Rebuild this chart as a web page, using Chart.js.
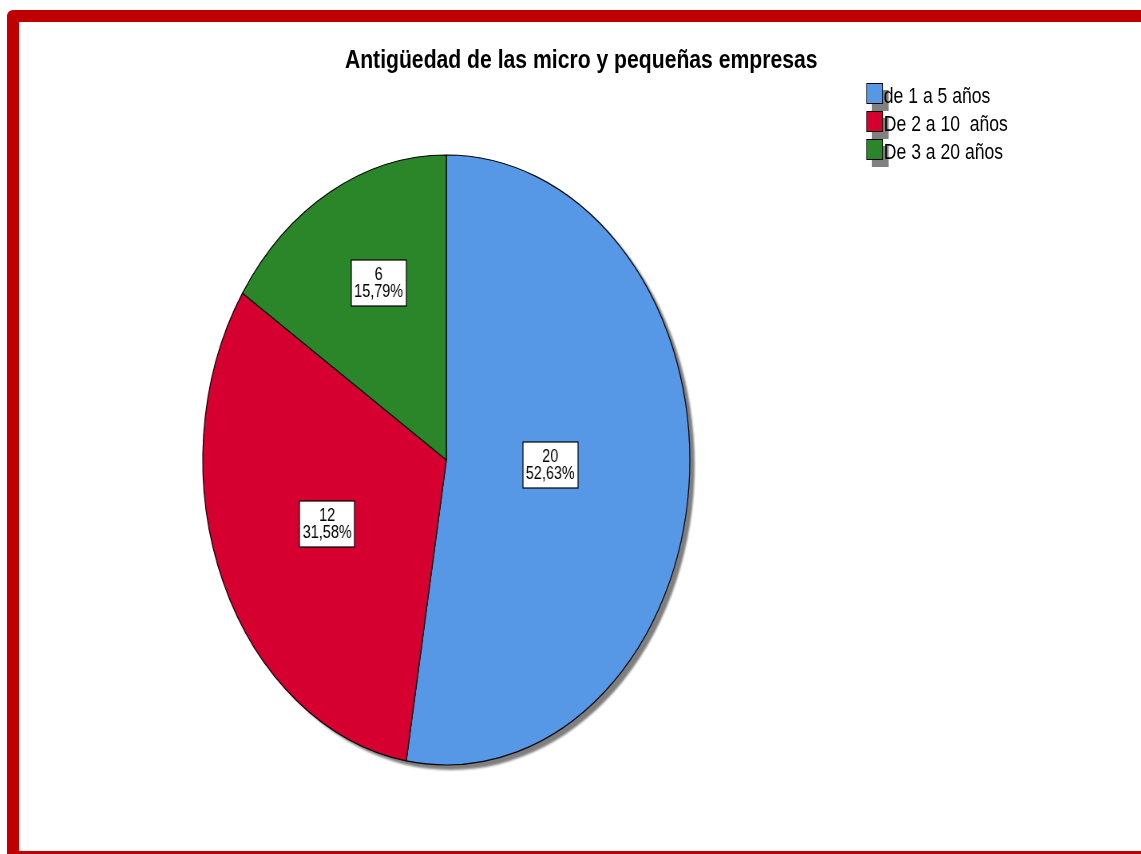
<!DOCTYPE html>
<html>
<head>
<meta charset="utf-8">
<script src="https://cdn.jsdelivr.net/npm/chart.js@4/dist/chart.umd.min.js"></script>
<style>
  html, body { margin: 0; padding: 0; background: #ffffff; width: 1141px; height: 854px; overflow: hidden; }
  #frame { position: absolute; left: 7px; top: 10px; width: 1200px; height: 853px; box-sizing: border-box;
           border: 12px solid #c00000; border-radius: 6px; }
  #wrap { position: absolute; left: 0; top: 0; width: 1429px; height: 854px; transform: scaleX(0.7984); transform-origin: 0 0; }
  #c { position: absolute; left: 0; top: 0; }
  #title { position: absolute; left: 0; width: 1456px; top: 46px; text-align: center; font: bold 26.5px/26px "Liberation Sans", Arial, sans-serif; color: #000; }
  #legend { position: absolute; left: 1085px; top: 83px; font: 22px/22px "Liberation Sans", Arial, sans-serif; color: #000; }
  .item { position: relative; height: 28px; }
  .sh { position: absolute; left: 7px; top: 7px; width: 21px; height: 21px; background: #808080; }
  .sw { position: absolute; left: 0; top: 0; width: 21px; height: 21px; box-sizing: border-box; border: 1px solid #000; }
  .tx { position: absolute; left: 22px; top: 2px; white-space: pre; }
</style>
</head>
<body>
<div id="frame"></div>
<div id="wrap">
  <canvas id="c" width="1429" height="854"></canvas>
  <div id="title"></div>
  <div id="legend"></div>
</div>
<script>
const chartTitle = "Antigüedad de las micro y pequeñas empresas";
const categories = ["de 1 a 5 años", "De 2 a 10  años", "De 3 a 20 años"];
const counts = [20, 12, 6];
const percentLabels = ["52,63%", "31,58%", "15,79%"];
const sliceColors = ["#5697e6", "#d5002f", "#2a8629"];

document.getElementById('title').textContent = chartTitle;
const legendEl = document.getElementById('legend');
categories.forEach((c, i) => {
  const it = document.createElement('div'); it.className = 'item';
  const sh = document.createElement('div'); sh.className = 'sh';
  const sw = document.createElement('div'); sw.className = 'sw'; sw.style.background = sliceColors[i];
  const tx = document.createElement('div'); tx.className = 'tx'; tx.textContent = c;
  it.appendChild(sh); it.appendChild(sw); it.appendChild(tx);
  legendEl.appendChild(it);
});

const SHADOW_DX = 6, SHADOW_DY = 5;
const pieDecor = {
  id: 'pieDecor',
  beforeDatasetsDraw(chart) {
    const ctx = chart.ctx;
    const a = chart.getDatasetMeta(0).data[0];
    ctx.save();
    ctx.fillStyle = '#7f7f7f';
    ctx.filter = 'blur(1px)';
    ctx.beginPath();
    ctx.arc(a.x + SHADOW_DX, a.y + SHADOW_DY, a.outerRadius, 0, Math.PI * 2);
    ctx.fill();
    ctx.restore();
  },
  afterDatasetsDraw(chart) {
    const ctx = chart.ctx;
    const meta = chart.getDatasetMeta(0);
    ctx.save();
    ctx.font = '18px "Liberation Sans", Arial, sans-serif';
    ctx.textAlign = 'center';
    ctx.textBaseline = 'middle';
    meta.data.forEach((arc, i) => {
      const half = (arc.endAngle - arc.startAngle) / 2;
      const mid = (arc.startAngle + arc.endAngle) / 2;
      const d = 2 * arc.outerRadius * Math.sin(half) / (3 * half);
      const x = arc.x + d * Math.cos(mid) + 8;
      const y = arc.y + d * Math.sin(mid) - 5;
      const l1 = String(counts[i]), l2 = percentLabels[i];
      const w = Math.max(ctx.measureText(l1).width, ctx.measureText(l2).width) + 8;
      const h = 46;
      ctx.fillStyle = '#ffffff';
      ctx.fillRect(Math.round(x - w / 2), Math.round(y - h / 2), Math.round(w), h);
      ctx.strokeStyle = '#000000';
      ctx.lineWidth = 1.2;
      ctx.strokeRect(Math.round(x - w / 2), Math.round(y - h / 2), Math.round(w), h);
      ctx.fillStyle = '#000000';
      ctx.fillText(l1, x, y - 8);
      ctx.fillText(l2, x, y + 9);
    });
    ctx.restore();
  }
};

new Chart(document.getElementById('c'), {
  type: 'pie',
  data: {
    labels: categories,
    datasets: [{
      data: counts,
      backgroundColor: sliceColors,
      borderColor: '#000000',
      borderWidth: 1.2,
      borderAlign: 'center'
    }]
  },
  options: {
    responsive: false,
    animation: false,
    events: [],
    radius: 305,
    rotation: 0,
    layout: { padding: { left: 254, right: 565, top: 155, bottom: 89 } },
    plugins: { legend: { display: false }, title: { display: false }, tooltip: { enabled: false } }
  },
  plugins: [pieDecor]
});
</script>
</body>
</html>
